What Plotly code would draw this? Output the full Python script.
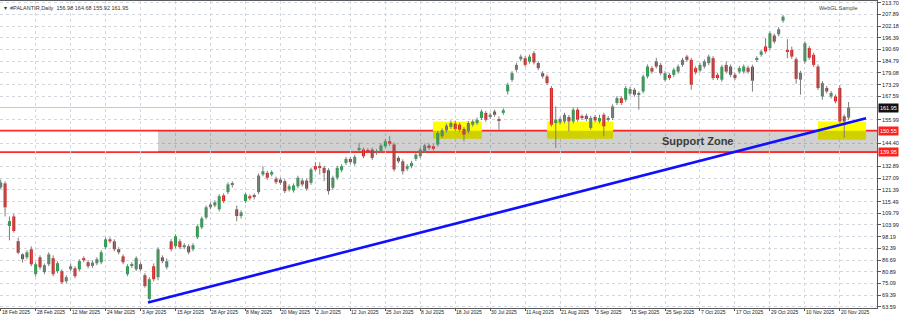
import plotly.graph_objects as go

# ---------------- data ----------------
OPEN = [122.5, 124.5, 103.5, 108.2, 96.0, 89.5, 88.0, 92.0, 79.7, 88.0,
        80.7, 84.6, 87.6, 81.2, 81.2, 76.2, 82.1, 82.6, 82.1, 87.6,
        85.6, 83.8, 85.1, 85.6, 93.0, 96.9, 95.9, 92.0, 88.5, 79.7,
        83.8, 82.1, 84.6, 79.2, 67.5, 83.6, 78.2, 88.0, 83.1, 95.9,
        93.5, 95.9, 93.0, 93.5, 92.0, 97.9, 102.8, 107.7, 112.7, 113.6,
        111.7, 118.6, 120.2, 124.0, 111.7, 108.4, 115.8, 118.2, 118.6, 120.2,
        128.9, 129.7, 128.9, 126.8, 126.4, 125.6, 121.5, 121.0, 123.1, 125.9,
        125.9, 124.8, 133.0, 133.0, 132.2, 131.0, 122.4, 127.3, 131.0, 134.6,
        136.6, 134.3, 141.2, 141.2, 140.9, 141.2, 139.6, 140.4, 142.8, 145.3,
        143.7, 137.1, 135.4, 131.7, 133.0, 136.6, 137.9, 140.4, 143.2, 142.8,
        143.7, 147.8, 150.7, 152.4, 154.0, 153.5, 151.4, 150.2, 153.5, 154.3,
        156.8, 159.3, 157.3, 160.0, 156.2, 159.3, 169.9, 175.6, 180.6, 185.8,
        186.3, 184.6, 188.8, 183.9, 178.9, 177.3, 171.6, 154.3, 154.6, 155.1,
        157.3, 155.1, 160.9, 157.6, 157.9, 151.9, 157.3, 155.1, 158.4, 156.0,
        156.8, 164.2, 166.6, 165.8, 168.8, 170.7, 168.3, 169.9, 177.3, 181.4,
        184.7, 183.0, 175.6, 178.1, 178.1, 179.7, 183.0, 187.1, 185.5, 181.4,
        180.2, 182.2, 183.9, 186.3, 178.1, 175.7, 183.0, 182.2, 178.1, 179.7,
        179.7, 181.6, 182.1, 185.5, 188.0, 192.1, 191.3, 197.5, 198.1, 204.8,
        190.4, 190.4, 185.8, 175.7, 184.7, 191.3, 188.0, 182.2, 167.4, 171.6,
        167.4, 167.4, 171.6, 157.6, 156.98]

HIGH = [126.4, 125.5, 108.2, 109.5, 97.7, 90.0, 91.5, 93.4, 85.6, 89.0,
        85.0, 90.5, 89.0, 86.0, 82.1, 79.2, 85.0, 83.6, 87.0, 88.5,
        86.6, 86.5, 88.0, 91.5, 97.9, 97.9, 96.9, 93.0, 89.5, 84.6,
        85.6, 88.5, 85.6, 80.2, 78.2, 85.0, 93.0, 89.0, 87.5, 97.0,
        99.4, 97.0, 95.0, 94.5, 95.0, 104.3, 108.2, 113.6, 115.1, 116.2,
        119.2, 119.6, 125.0, 125.5, 113.6, 111.2, 120.0, 119.1, 119.6, 129.4,
        133.0, 130.7, 131.0, 127.8, 127.4, 126.6, 124.1, 124.5, 128.3, 126.9,
        126.9, 132.3, 135.0, 134.9, 133.2, 132.0, 128.3, 133.2, 134.0, 137.6,
        137.6, 138.6, 144.5, 142.2, 141.9, 142.2, 141.4, 144.2, 146.5, 147.8,
        144.7, 138.1, 136.4, 134.0, 135.6, 139.7, 142.2, 144.2, 144.2, 143.8,
        150.4, 151.7, 154.0, 155.6, 155.5, 154.5, 152.4, 155.3, 156.1, 157.0,
        161.0, 160.3, 159.4, 161.0, 157.6, 161.6, 174.2, 179.9, 184.0, 188.1,
        187.3, 188.1, 189.8, 184.9, 179.9, 178.3, 172.6, 162.5, 157.3, 159.4,
        158.3, 161.9, 161.9, 158.6, 158.9, 157.8, 158.3, 158.4, 159.4, 157.8,
        163.5, 167.6, 167.6, 172.6, 172.1, 171.7, 169.9, 178.3, 183.2, 182.4,
        186.5, 184.0, 179.9, 179.1, 181.6, 183.2, 186.5, 188.0, 186.5, 182.4,
        184.0, 185.7, 188.1, 187.3, 179.1, 183.1, 184.7, 183.2, 179.1, 182.4,
        183.2, 182.6, 183.1, 187.3, 190.6, 196.2, 199.6, 198.5, 201.6, 207.6,
        195.7, 192.0, 186.8, 180.1, 194.7, 192.3, 189.0, 183.2, 175.0, 172.6,
        170.1, 168.4, 173.0, 158.6, 164.68]

LOW = [121.8, 108.2, 96.4, 100.2, 89.5, 85.4, 87.0, 83.6, 78.5, 82.0,
       79.7, 83.6, 78.7, 80.2, 74.8, 75.2, 81.2, 77.7, 81.2, 85.6,
       82.6, 82.8, 84.1, 84.6, 92.0, 94.9, 91.0, 89.5, 84.6, 78.7,
       82.8, 81.2, 81.2, 73.0, 66.6, 76.2, 76.7, 85.1, 82.1, 91.0,
       92.5, 92.0, 92.0, 89.5, 91.0, 97.0, 102.0, 106.8, 111.7, 112.7,
       110.7, 114.8, 119.2, 122.5, 105.8, 107.2, 114.8, 116.1, 116.6, 119.2,
       128.0, 126.3, 128.0, 124.1, 123.8, 119.7, 120.5, 120.0, 122.1, 123.0,
       120.9, 123.8, 130.4, 128.9, 125.6, 119.0, 121.4, 126.3, 130.0, 133.6,
       134.0, 133.3, 140.4, 136.9, 139.4, 136.1, 138.6, 139.4, 141.8, 143.0,
       130.4, 134.4, 128.9, 130.7, 132.0, 135.6, 136.9, 139.4, 141.0, 140.6,
       142.7, 146.8, 149.7, 151.4, 150.4, 150.0, 145.3, 149.2, 152.5, 153.3,
       155.8, 154.9, 156.3, 157.4, 151.0, 158.3, 168.4, 174.6, 179.6, 184.8,
       182.0, 183.6, 183.2, 180.4, 176.3, 173.0, 152.5, 142.0, 153.6, 154.1,
       150.2, 154.1, 155.0, 155.8, 155.3, 150.9, 154.6, 154.1, 147.8, 155.0,
       155.8, 163.2, 163.2, 164.8, 167.8, 167.3, 160.9, 168.9, 176.3, 178.7,
       181.2, 177.9, 174.8, 175.5, 177.1, 178.7, 182.0, 184.5, 170.7, 178.3,
       179.2, 181.2, 182.9, 175.5, 175.5, 174.7, 178.7, 177.1, 175.5, 178.7,
       178.7, 178.6, 169.8, 184.5, 187.0, 188.6, 190.3, 193.5, 197.1, 203.8,
       186.3, 186.0, 173.7, 168.3, 183.7, 185.5, 182.0, 170.6, 165.8, 168.9,
       166.4, 164.0, 154.1, 147.1, 155.92]

CLOSE = [125.0, 112.7, 105.9, 101.0, 90.3, 87.1, 90.5, 84.6, 84.6, 83.1,
         84.1, 89.5, 79.7, 85.1, 75.7, 78.2, 83.6, 78.7, 86.1, 86.6,
         83.6, 85.4, 87.1, 90.5, 96.9, 95.9, 92.0, 90.5, 85.6, 83.6,
         84.6, 87.6, 82.1, 73.8, 77.2, 77.2, 92.0, 86.1, 86.1, 92.0,
         98.4, 93.0, 94.0, 90.5, 94.0, 103.3, 107.2, 112.7, 114.1, 115.2,
         118.2, 115.8, 124.0, 124.5, 108.4, 110.2, 119.1, 117.1, 117.8, 128.4,
         130.5, 127.3, 130.1, 125.1, 124.8, 120.7, 123.1, 123.5, 127.3, 124.0,
         121.9, 131.4, 131.4, 132.2, 129.7, 120.7, 127.3, 132.2, 133.0, 136.6,
         135.0, 137.6, 142.0, 137.9, 140.4, 137.1, 140.4, 143.2, 145.3, 144.1,
         131.4, 135.4, 130.5, 133.0, 134.6, 138.7, 141.2, 143.2, 142.0, 141.6,
         149.4, 150.7, 153.0, 154.3, 151.4, 151.0, 148.6, 154.3, 155.1, 155.9,
         160.0, 155.9, 158.4, 158.4, 155.7, 160.6, 173.2, 178.9, 183.0, 187.1,
         183.0, 187.1, 184.2, 181.4, 177.3, 174.0, 153.5, 156.0, 156.3, 158.4,
         155.1, 160.9, 156.0, 156.8, 156.3, 156.8, 155.6, 156.8, 152.7, 156.8,
         162.5, 166.6, 164.2, 171.6, 171.1, 168.3, 169.1, 177.3, 182.2, 179.7,
         182.2, 178.9, 178.9, 176.5, 180.6, 182.2, 185.5, 185.5, 173.2, 179.3,
         183.0, 184.7, 187.1, 176.5, 176.5, 182.1, 179.7, 178.1, 176.5, 181.4,
         182.2, 179.6, 175.2, 186.3, 189.6, 189.6, 198.6, 194.5, 200.6, 206.8,
         189.6, 187.1, 176.1, 179.1, 193.7, 186.5, 183.0, 171.6, 174.0, 169.9,
         169.1, 165.0, 155.1, 155.1, 161.95]

DATE_LABELS = ["18 Feb 2025", "28 Feb 2025", "12 Mar 2025", "24 Mar 2025", "3 Apr 2025",
               "15 Apr 2025", "28 Apr 2025", "8 May 2025", "20 May 2025", "2 Jun 2025",
               "12 Jun 2025", "25 Jun 2025", "8 Jul 2025", "18 Jul 2025", "30 Jul 2025",
               "11 Aug 2025", "21 Aug 2025", "3 Sep 2025", "15 Sep 2025", "25 Sep 2025",
               "7 Oct 2025", "17 Oct 2025", "29 Oct 2025", "10 Nov 2025", "20 Nov 2025"]
DATE_STEP = 8

PRICE_TICKS = [213.70, 207.89, 202.18, 196.39, 190.69, 184.79, 179.08, 173.29, 167.59,
               155.99, 144.40, 132.89, 127.09, 121.39, 115.49,
               109.79, 103.99, 98.19, 92.39, 86.69, 80.89, 75.09, 69.39, 63.59]

SUPPORT_HIGH = 150.55
SUPPORT_LOW = 139.95
SUPPORT_START = 36.0
CURRENT_PRICE = CLOSE[-1]
TREND_X = [33.7, 198.0]
TREND_Y = [65.7, 156.7]
HIGHLIGHTS = [(98.9, 110.1, 146.6, 155.0), (125.0, 140.1, 146.6, 155.0), (187.0, 198.0, 146.1, 155.0)]
SYMBOL = "#PALANTIR,Daily"

# ---------------- figure ----------------
GREEN = "#2f9a52"
RED = "#d81e1e"
WICK = "#7d7d7d"
GRID = "#d3d8e0"
AXIS = "#5a5a5a"
FONT = "Liberation Sans"

n = len(CLOSE)
idx = list(range(n))

wx, wy = [], []
for i in idx:
    wx += [i, i, None]
    wy += [LOW[i], HIGH[i], None]

fig = go.Figure()
fig.add_trace(go.Scatter(x=wx, y=wy, mode="lines", line=dict(color=WICK, width=1),
                         hoverinfo="skip"))

for up, col in ((True, GREEN), (False, RED)):
    sel = [i for i in idx if (CLOSE[i] >= OPEN[i]) == up]
    fig.add_trace(go.Bar(
        x=sel,
        base=[min(OPEN[i], CLOSE[i]) for i in sel],
        y=[max(abs(CLOSE[i] - OPEN[i]), 0.35) for i in sel],
        width=0.7, marker=dict(color=col, line=dict(width=0)),
    ))

fig.add_trace(go.Scatter(x=TREND_X, y=TREND_Y, mode="lines",
                         line=dict(color="#1010ff", width=2.6), hoverinfo="skip"))

shapes = []
for x0, x1, y0, y1 in HIGHLIGHTS:
    shapes.append(dict(type="rect", xref="x", yref="y", x0=x0, x1=x1, y0=y0, y1=y1,
                       fillcolor="#ffff00", line=dict(width=0), layer="between"))
shapes.append(dict(type="rect", xref="x", yref="y", x0=SUPPORT_START, x1=1000,
                   y0=SUPPORT_LOW, y1=SUPPORT_HIGH, fillcolor="rgba(0,0,0,0.18)",
                   line=dict(width=0), layer="between"))
shapes.append(dict(type="line", xref="paper", yref="y", x0=0, x1=1,
                   y0=CURRENT_PRICE, y1=CURRENT_PRICE,
                   line=dict(color="#c4c9d2", width=1), layer="between"))
for lvl in (SUPPORT_HIGH, SUPPORT_LOW):
    shapes.append(dict(type="line", xref="paper", yref="y", x0=0, x1=1, y0=lvl, y1=lvl,
                       line=dict(color="#ff2a2a", width=1.6), layer="between"))

annotations = []
for k, lab in enumerate(DATE_LABELS):
    annotations.append(dict(x=k * DATE_STEP, y=0, xref="x", yref="paper", text=lab,
                            showarrow=False, xanchor="left", yanchor="top", yshift=0,
                            borderpad=0,
                            font=dict(size=5, family=FONT, color="#222")))
for val, bg in ((CURRENT_PRICE, "#111111"), (SUPPORT_HIGH, "#ff2020"), (SUPPORT_LOW, "#ff2020")):
    annotations.append(dict(x=1, y=val, xref="paper", yref="y", text=f"{val:.2f}",
                            showarrow=False, xanchor="left", yanchor="middle", xshift=1,
                            bgcolor=bg, borderpad=1,
                            font=dict(size=5.5, family=FONT, color="white")))
annotations.append(dict(x=0, y=1, xref="paper", yref="paper", xshift=2, yshift=-2,
                        text=f"▾  {SYMBOL}  {OPEN[-1]:.2f} {HIGH[-1]:.2f} {LOW[-1]:.2f} {CLOSE[-1]:.2f}",
                        showarrow=False, xanchor="left", yanchor="top",
                        font=dict(size=5.5, family=FONT, color="#333")))
annotations.append(dict(x=0.981, y=1, xref="paper", yref="paper", yshift=-2,
                        text="WebGL Sample", showarrow=False, xanchor="right", yanchor="top",
                        font=dict(size=5.5, family=FONT, color="#444")))
annotations.append(dict(x=150.8, y=(SUPPORT_HIGH + SUPPORT_LOW) / 2, xref="x", yref="y",
                        text="<b>Support Zone</b>", showarrow=False, xanchor="left",
                        yanchor="middle", font=dict(size=11, family=FONT, color="#3c3c3c")))

fig.update_layout(
    width=900, height=315,
    margin=dict(l=0, r=23, t=1, b=7, autoexpand=False),
    plot_bgcolor="white", paper_bgcolor="white",
    showlegend=False, barmode="overlay",
    shapes=shapes, annotations=annotations,
)
fig.update_xaxes(range=[-0.16, 200.5], tickvals=[k * DATE_STEP for k in range(len(DATE_LABELS))],
                 showticklabels=False, ticks="outside", ticklen=2, tickcolor=AXIS,
                 showgrid=True, gridcolor=GRID, griddash="dot", gridwidth=1,
                 showline=True, linecolor=AXIS, linewidth=1, mirror=True, zeroline=False)
fig.update_yaxes(side="right", range=[63.0, 214.54], tickvals=PRICE_TICKS,
                 ticktext=[f"{v:.2f}" for v in PRICE_TICKS],
                 ticks="outside", ticklen=3, tickcolor=AXIS, ticklabeloverflow="allow",
                 tickfont=dict(size=5.5, family=FONT, color="#222"),
                 showgrid=True, gridcolor=GRID, griddash="dot", gridwidth=1,
                 showline=True, linecolor=AXIS, linewidth=1, mirror=True, zeroline=False)

fig.write_html("out.html")
